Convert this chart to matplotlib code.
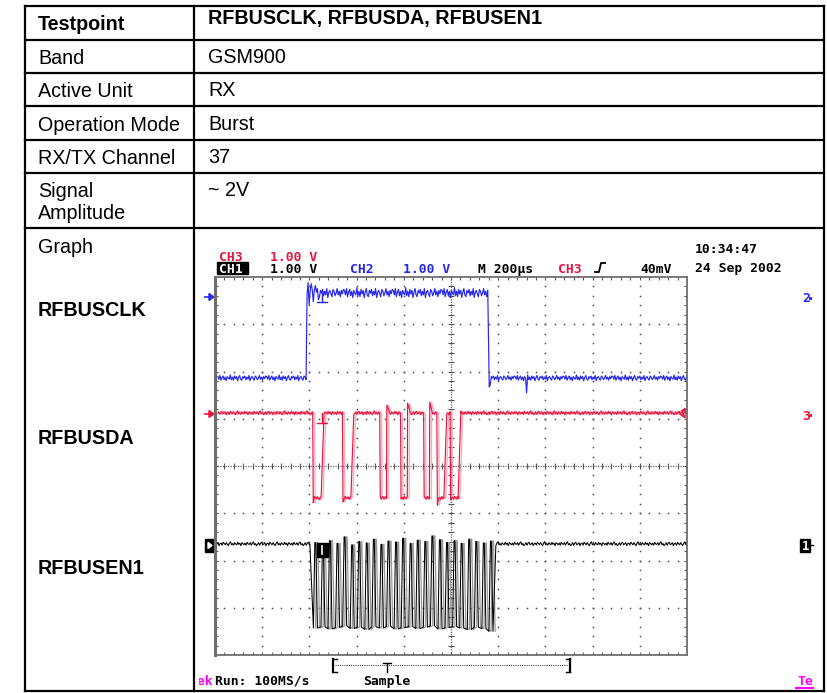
import numpy as np
import matplotlib.pyplot as plt
from matplotlib.patches import Rectangle, Polygon
from matplotlib.collections import LineCollection

plt.rcParams['font.family'] = ['Liberation Sans', 'DejaVu Sans']

# table contents
header_label = 'Testpoint'
header_value = 'RFBUSCLK, RFBUSDA, RFBUSEN1'
row_labels = ['Band', 'Active Unit', 'Operation Mode', 'RX/TX Channel']
row_values = ['GSM900', 'RX', 'Burst', '37']
amp_label = ['Signal', 'Amplitude']
amp_value = '~ 2V'
signal_names = ['RFBUSCLK', 'RFBUSDA', 'RFBUSEN1']

# scope traces, screen units are divisions (10 x 8)
clk_low, clk_high = 5.86, 7.66
clk_edges = [1.93, 5.78]
clk_spikes = [(1.97, 7.88), (2.00, 7.42), (2.04, 7.86), (2.08, 7.48), (2.13, 7.82),
              (2.19, 7.52), (5.80, 5.67), (5.83, 5.72), (6.61, 5.55)]

da_high, da_low = 5.12, 3.32
da_edges = [2.07, 2.25, 2.70, 2.88, 3.49, 3.64, 3.93, 4.08, 4.42, 4.55, 4.70, 4.85, 4.98, 5.15]
da_spikes = [(3.66, 5.29), (4.10, 5.33), (4.57, 5.35), (4.72, 3.17), (2.09, 3.22), (2.72, 3.24)]

en_base = 2.35
en_start, en_stop = 2.01, 5.95
en_peaks = [2.13, 2.29, 2.44, 2.60, 2.75, 2.91, 3.06, 3.22, 3.37, 3.53, 3.68, 3.84, 3.99,
            4.15, 4.30, 4.46, 4.61, 4.77, 4.92, 5.08, 5.23, 5.39, 5.54, 5.70, 5.85]
en_tops = [2.38, 2.30, 2.42, 2.36, 2.50, 2.33, 2.40, 2.37, 2.45, 2.34, 2.41, 2.39, 2.47,
           2.36, 2.43, 2.40, 2.52, 2.44, 2.38, 2.42, 2.36, 2.45, 2.40, 2.37, 2.41]
en_bottoms = [0.57, 0.60, 0.55, 0.58, 0.62, 0.56, 0.59, 0.54, 0.60, 0.57, 0.61, 0.55, 0.58,
              0.60, 0.56, 0.59, 0.62, 0.55, 0.58, 0.60, 0.57, 0.54, 0.59, 0.56, 0.50]

# trace ripple (divisions)
noise_a = [0.03, -0.02, 0.05, -0.04, 0.01, 0.04, -0.03, 0.02, -0.05, 0.03, 0.00, -0.02,
           0.06, -0.03, 0.02, -0.04, 0.04, -0.01, 0.03, -0.05, 0.01, 0.05, -0.02, -0.04,
           0.03, 0.00, 0.04, -0.03, 0.02, -0.02, 0.05, -0.05, 0.01, 0.03, -0.01, -0.04,
           0.04, 0.02, -0.03, 0.00, 0.05, -0.02, 0.02, -0.04, 0.03, -0.01, 0.04]
noise_b = [-0.01, 0.03, -0.03, 0.02, 0.04, -0.02, 0.00, 0.03, -0.04, 0.01, 0.02, -0.03,
           0.04, 0.01, -0.02, 0.03, -0.01, -0.04, 0.02, 0.05, -0.02, 0.01, -0.03, 0.03,
           0.00, -0.02, 0.04, -0.01, 0.02, -0.04, 0.03, 0.01, -0.02, 0.02, -0.03, 0.04,
           0.00, -0.01, 0.03, -0.03, 0.02, 0.05, -0.02, 0.01, -0.04]

BLUE = '#2626ec'
RED = '#e8163f'
PINK = '#f6b0c0'
MAGENTA = '#ff00ff'
STEP = 0.022


def flat(x0, x1, level, noise, scale, k0):
    xs = np.append(np.arange(x0, x1, STEP), x1)
    ys = np.array([level + scale * noise[(k0 + i) % len(noise)] for i in range(len(xs))])
    return xs, ys


def pulse_train(x0, x1, edges, high, low, noise, start_high, rise_w, fall_w, scales=(1, 1)):
    bounds = [x0] + list(edges) + [x1]
    xs, ys = [], []
    is_high = start_high
    for i in range(len(bounds) - 1):
        a, b = bounds[i], bounds[i + 1]
        if i > 0:
            a += rise_w if is_high else fall_w
        fx, fy = flat(a, b, high if is_high else low, noise,
                      scales[0] if is_high else scales[1], 11 * i)
        xs.extend(fx)
        ys.extend(fy)
        is_high = not is_high
    return np.array(xs), np.array(ys)


def add_spikes(xs, ys, spikes):
    for sx, sy in spikes:
        ys[np.argmin(np.abs(xs - sx))] = sy
    return ys


fig = plt.figure(figsize=(8.27, 6.93), dpi=100)

# page layer in pixel units
page = fig.add_axes([0, 0, 1, 1])
page.set_xlim(0, 827)
page.set_ylim(693, 0)
page.axis('off')

for y in [6, 39.5, 73, 106, 139.5, 173, 228, 691]:
    page.plot([25, 824], [y, y], color='black', lw=1.6, solid_capstyle='projecting')
for x in [25, 194, 824]:
    page.plot([x, x], [6, 691], color='black', lw=1.6, solid_capstyle='projecting')

fs = 14.2
page.text(38, 30, header_label, fontsize=fs, fontweight='bold')
page.text(208, 24, header_value, fontsize=fs, fontweight='bold')
for i, (lab, val) in enumerate(zip(row_labels, row_values)):
    base = 64 + 33.3 * i
    page.text(38, base, lab, fontsize=fs)
    page.text(208, base - 1, val, fontsize=fs)
page.text(38, 197, amp_label[0], fontsize=fs)
page.text(38, 219, amp_label[1], fontsize=fs)
page.text(208, 196, amp_value, fontsize=fs)
page.text(38, 253, 'Graph', fontsize=fs)
for name, base in zip(signal_names, [316, 444, 574]):
    page.text(38, base, name, fontsize=fs, fontweight='bold')

# scope readouts
mono = dict(family='DejaVu Sans Mono', fontsize=9.4, fontweight='bold')
page.text(219, 261, 'CH3', color=RED, **mono)
page.text(270, 261, '1.00 V', color=RED, **mono)
page.add_patch(Rectangle((217, 262), 31, 12, color='black'))
page.text(219, 273, 'CH1', color='white', **mono)
page.text(270, 273, '1.00 V', color='black', **mono)
page.text(350, 273, 'CH2', color=BLUE, **mono)
page.text(403, 273, '1.00 V', color=BLUE, **mono)
page.text(478, 273, 'M 200\u00b5s', color='black', **mono)
page.text(558, 273, 'CH3', color=RED, **mono)
page.plot([595, 599, 601, 605], [272, 272, 263, 263], color='black', lw=1.3)
page.text(640, 273, '40mV', color='black', **mono)
page.text(695, 253, '10:34:47', color='black', **mono)
page.text(695, 272, '24 Sep 2002', color='black', **mono)

# record-length bar and status line
page.plot([335, 568], [665, 665], color='#444444', lw=0.8, ls=(0, (1, 1)))
page.plot([333, 333], [659, 672], color='black', lw=1.6)
page.plot([333, 337], [659, 659], color='black', lw=1.0)
page.plot([333, 337], [672, 672], color='black', lw=1.0)
page.plot([570, 570], [659, 672], color='black', lw=1.6)
page.plot([566, 570], [659, 659], color='black', lw=1.0)
page.plot([566, 570], [672, 672], color='black', lw=1.0)
page.plot([383, 391], [663, 663], color='black', lw=1.0)
page.plot([387, 387], [663, 672], color='black', lw=1.0)
tek = page.text(213, 685, 'Tek', color=MAGENTA, ha='right', clip_on=True, **mono)
tek.set_clip_path(Rectangle((199, 600), 600, 90, transform=page.transData))
page.text(215, 685, 'Run: 100MS/s', color='black', **mono)
page.text(363, 685, 'Sample', color='black', **mono)
page.text(797, 685, 'Te', color=MAGENTA, **mono)
page.plot([796, 813], [688, 688], color=MAGENTA, lw=1.5)

# channel ground markers
page.plot([205, 210], [297, 297], color=BLUE, lw=1.2)
page.add_patch(Polygon([(209, 293.5), (214, 297), (209, 300.5)], color=BLUE))
page.plot([205, 210], [414, 414], color=RED, lw=1.2)
page.add_patch(Polygon([(209, 410.5), (214, 414), (209, 417.5)], color=RED))
page.add_patch(Rectangle((205, 539), 9, 13, color='black'))
page.add_patch(Polygon([(208, 542.5), (212, 545.5), (208, 548.5)], color='white'))
page.text(802, 302, '2', color=BLUE, **mono)
page.plot([810], [298], marker='s', ms=1.2, color=BLUE)
page.text(802, 420, '3', color=RED, **mono)
page.plot([810], [415], marker='s', ms=1.2, color=RED)
page.add_patch(Rectangle((800, 539), 10, 13, color='black'))
page.text(801.5, 550, '1', color='white', fontsize=9, fontweight='bold', family='DejaVu Sans Mono')
page.plot([810, 813], [545, 545], color='black', lw=1)

# graticule
ax = fig.add_axes([215 / 827, (693 - 655) / 693, 472 / 827, 378 / 693])
ax.set_xlim(0, 10)
ax.set_ylim(0, 8)
ax.set_xticks([])
ax.set_yticks([])
for s in ax.spines.values():
    s.set_color('#6e6e6e')
    s.set_linewidth(1.3)
ax.spines['left'].set_linewidth(2.2)

minor_x = np.arange(0.2, 10, 0.2)
minor_y = np.arange(0.2, 8, 0.2)
for gx in range(1, 10):
    if gx != 5:
        ax.plot(np.full_like(minor_y, gx), minor_y, ls='none', marker='s', ms=1.1, mew=0, color='#4a4a4a')
for gy in range(1, 8):
    if gy != 4:
        ax.plot(minor_x, np.full_like(minor_x, gy), ls='none', marker='s', ms=1.1, mew=0, color='#4a4a4a')
ax.plot([5, 5], [0, 8], color='#666666', lw=0.9, ls=(0, (1, 1)))
ax.plot([0, 10], [4, 4], color='#666666', lw=0.9, ls=(0, (1, 1)))
ticks = [[(x, 3.94), (x, 4.06)] for x in minor_x] + [[(4.94, y), (5.06, y)] for y in minor_y]
ticks += [[(x, 0), (x, 0.07)] for x in minor_x] + [[(x, 8), (x, 7.93)] for x in minor_x]
ticks += [[(0, y), (0.07, y)] for y in minor_y] + [[(10, y), (9.93, y)] for y in minor_y]
ax.add_collection(LineCollection(ticks, colors='#555555', linewidths=0.8))

# CH2: RFBUSCLK
cx, cy = pulse_train(0.06, 10.0, clk_edges, clk_high, clk_low, noise_a, False, 0.02, 0.03, (1.9, 1.1))
cy = add_spikes(cx, cy, clk_spikes)
ax.plot(cx, cy, color=BLUE, lw=0.85)

# CH3: RFBUSDA
dx, dy = pulse_train(0.06, 10.0, da_edges, da_high, da_low, noise_b, True, 0.06, 0.012, (0.9, 0.9))
dy = add_spikes(dx, dy, da_spikes)
ax.plot(dx + 0.04, dy, color=PINK, lw=1.0)
ax.plot(dx, dy, color=RED, lw=0.85)

# CH1: RFBUSEN1
b1x, b1y = flat(0.02, en_start, en_base, noise_b, 0.9, 5)
b2x, b2y = flat(en_stop, 10.0, en_base, noise_b, 0.9, 17)
burst_x, burst_y = [], []
for p, top, bot in zip(en_peaks, en_tops, en_bottoms):
    burst_x += [p - 0.045, p - 0.015, p + 0.005, p + 0.04]
    burst_y += [bot, top, top, bot]
burst_x = np.array(burst_x)
burst_y = np.array(burst_y)
ax.plot(burst_x + 0.045, burst_y, color='#999999', lw=0.9)
ax.plot(np.concatenate([b1x, burst_x, b2x]), np.concatenate([b1y, burst_y, b2y]),
        color='black', lw=0.75)

# trigger position marks on each trace
ax.plot([2.26, 2.26], [7.66, 7.48], color=BLUE, lw=1.0)
ax.plot([2.16, 2.37], [7.48, 7.48], color=BLUE, lw=1.0)
ax.plot([2.26, 2.26], [5.12, 4.91], color=RED, lw=1.0)
ax.plot([2.16, 2.37], [4.91, 4.91], color=RED, lw=1.0)
ax.add_patch(Rectangle((2.16, 2.08), 0.23, 0.28, color='black', zorder=5))
ax.plot([2.275, 2.275], [2.13, 2.31], color='white', lw=1.2, zorder=6)
ax.add_patch(Polygon([(9.82, 5.12), (9.96, 5.02), (9.96, 5.22)], color=RED, clip_on=False))

fig.savefig('out.png', dpi=100)
